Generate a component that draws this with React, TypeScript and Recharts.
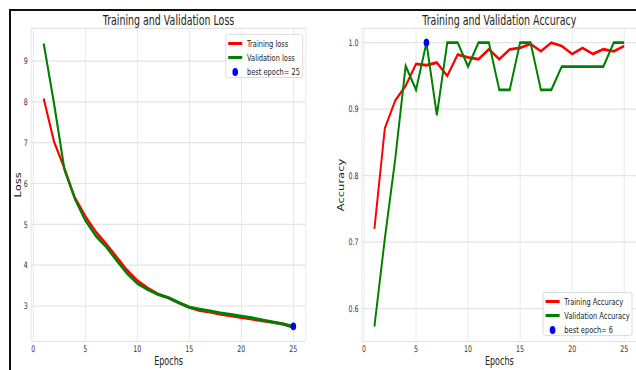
import { ComposedChart, Line, Scatter, XAxis, YAxis, CartesianGrid, Legend } from "recharts";

// the reference is squeezed horizontally, so each chart is drawn wider and scaled back
const SX = 0.7;

const epochs = [1, 2, 3, 4, 5, 6, 7, 8, 9, 10, 11, 12, 13, 14, 15, 16, 17, 18, 19, 20, 21, 22, 23, 24, 25];
const trainLoss = [8.08, 7.02, 6.37, 5.65, 5.2, 4.82, 4.52, 4.2, 3.88, 3.62, 3.44, 3.29, 3.2, 3.08, 2.97, 2.89, 2.85, 2.8, 2.76, 2.72, 2.68, 2.64, 2.6, 2.56, 2.48];
const valLoss = [9.43, 7.95, 6.33, 5.62, 5.1, 4.72, 4.45, 4.12, 3.8, 3.55, 3.4, 3.28, 3.2, 3.08, 2.97, 2.92, 2.88, 2.83, 2.79, 2.75, 2.71, 2.66, 2.61, 2.56, 2.5];
const trainAcc = [0.72, 0.871, 0.913, 0.935, 0.968, 0.966, 0.97, 0.95, 0.982, 0.978, 0.975, 0.99, 0.975, 0.99, 0.992, 0.998, 0.987, 1.0, 0.995, 0.983, 0.992, 0.983, 0.99, 0.987, 0.995];
const valAcc = [0.573, 0.705, 0.825, 0.965, 0.929, 1.0, 0.891, 1.0, 1.0, 0.964, 1.0, 1.0, 0.929, 0.929, 1.0, 1.0, 0.929, 0.929, 0.964, 0.964, 0.964, 0.964, 0.964, 1.0, 1.0];
const bestLossEpoch = 25;
const bestAccEpoch = 6;

const xTicks = [0, 5, 10, 15, 20, 25];
const lossTicks = [3, 4, 5, 6, 7, 8, 9];
const accTicks = [0.6, 0.7, 0.8, 0.9, 1.0];

const lossData = epochs.map((epoch, i) => ({ epoch, train: trainLoss[i], val: valLoss[i] }));
const accData = epochs.map((epoch, i) => ({ epoch, train: trainAcc[i], val: valAcc[i] }));
const bestLoss = [{ epoch: bestLossEpoch, best: valLoss[bestLossEpoch - 1] }];
const bestAcc = [{ epoch: bestAccEpoch, best: valAcc[bestAccEpoch - 1] }];

const tickStyle = { fontSize: 9, fill: "#333" };

function LegendBox({ payload, width }: any) {
  return (
    <div
      style={{
        width,
        height: 44,
        boxSizing: "border-box",
        border: "1px solid #d8d8d8",
        borderRadius: 3,
        background: "rgba(255,255,255,0.85)",
        padding: "1px 0 0 3px",
        fontSize: 9.5,
        color: "#222",
      }}
    >
      {(payload || []).map((p: any) => (
        <div key={p.value} style={{ display: "flex", alignItems: "center", height: 14.2 }}>
          <div style={{ width: 20, display: "flex", justifyContent: "center", marginRight: 7 }}>
            {p.type === "circle" ? (
              <div style={{ width: 8, height: 7.6, borderRadius: "50%", background: p.color }} />
            ) : (
              <div style={{ width: 20, height: 3, background: p.color }} />
            )}
          </div>
          <span>{p.value}</span>
        </div>
      ))}
    </div>
  );
}

const dot = (props: any) => <ellipse cx={props.cx} cy={props.cy} rx={4} ry={3.8} fill="#0000ff" />;

function Title({ text, left, width }: { text: string; left: number; width: number }) {
  return (
    <div
      style={{
        position: "absolute",
        left,
        width,
        top: 13,
        textAlign: "center",
        fontSize: 13.5,
        lineHeight: "14px",
        color: "#222",
        whiteSpace: "nowrap",
      }}
    >
      {text}
    </div>
  );
}

function LossChart() {
  return (
    <div style={{ position: "relative", width: 454, height: 370 }}>
      <Title text="Training and Validation Loss" left={44.6} width={392.3} />
      <ComposedChart width={454} height={370} data={lossData} margin={{ top: 28.4, right: 17.1, bottom: 0, left: 7 }}>
        <CartesianGrid stroke="#e4e4e4" strokeWidth={1.2} />
        <XAxis
          dataKey="epoch"
          type="number"
          domain={[-0.2, 26.2]}
          ticks={xTicks}
          height={28.5}
          axisLine={false}
          tickLine={false}
          tickSize={0}
          tickMargin={4}
          tick={tickStyle}
          label={{ value: "Epochs", position: "insideBottom", offset: 5, fontSize: 11.5, fill: "#222" }}
        />
        <YAxis
          type="number"
          domain={[2.13, 9.8]}
          ticks={lossTicks}
          width={37.6}
          axisLine={false}
          tickLine={false}
          tickSize={0}
          tickMargin={5}
          tick={tickStyle}
          allowDataOverflow
          label={{ value: "Loss", angle: -90, position: "center", fontSize: 11.5, fill: "#222" }}
        />
        <Line type="linear" dataKey="train" name="Training loss" stroke="#ff0000" strokeWidth={3} dot={false} isAnimationActive={false} />
        <Line type="linear" dataKey="val" name="Validation loss" stroke="#008000" strokeWidth={3} dot={false} isAnimationActive={false} />
        <Scatter data={bestLoss} dataKey="best" name={`best epoch= ${bestLossEpoch}`} fill="#0000ff" legendType="circle" shape={dot} isAnimationActive={false} />
        <Legend
          layout="vertical"
          align="center"
          verticalAlign="middle"
          wrapperStyle={{ left: 321.9, top: 34.3, width: 111.4 }}
          content={(props: any) => <LegendBox payload={props.payload} width={111.4} />}
        />
      </ComposedChart>
    </div>
  );
}

function AccChart() {
  return (
    <div style={{ position: "relative", width: 460, height: 370 }}>
      <Title text="Training and Validation Accuracy" left={65.6} width={392.5} />
      <ComposedChart width={460} height={370} data={accData} margin={{ top: 28.4, right: 1.9, bottom: 0, left: 6 }}>
        <CartesianGrid stroke="#e4e4e4" strokeWidth={1.2} />
        <XAxis
          dataKey="epoch"
          type="number"
          domain={[-0.2, 26.2]}
          ticks={xTicks}
          height={28.5}
          axisLine={false}
          tickLine={false}
          tickSize={0}
          tickMargin={4}
          tick={tickStyle}
          label={{ value: "Epochs", position: "insideBottom", offset: 5, fontSize: 11.5, fill: "#222" }}
        />
        <YAxis
          type="number"
          domain={[0.5506, 1.0214]}
          ticks={accTicks}
          width={59.6}
          axisLine={false}
          tickLine={false}
          tickSize={0}
          tickMargin={5}
          tick={tickStyle}
          tickFormatter={(v: number) => v.toFixed(1)}
          allowDataOverflow
          label={{ value: "Accuracy", angle: -90, position: "center", fontSize: 11.5, fill: "#222" }}
        />
        <Line type="linear" dataKey="train" name="Training Accuracy" stroke="#ff0000" strokeWidth={2.8} dot={false} isAnimationActive={false} />
        <Line type="linear" dataKey="val" name="Validation Accuracy" stroke="#008000" strokeWidth={2.8} dot={false} isAnimationActive={false} />
        <Scatter data={bestAcc} dataKey="best" name={`best epoch= ${bestAccEpoch}`} fill="#0000ff" legendType="circle" shape={dot} isAnimationActive={false} />
        <Legend
          layout="vertical"
          align="center"
          verticalAlign="middle"
          wrapperStyle={{ left: 323.8, top: 292.3, width: 128.6 }}
          content={(props: any) => <LegendBox payload={props.payload} width={128.6} />}
        />
      </ComposedChart>
    </div>
  );
}

export default function App() {
  return (
    <div
      style={{
        position: "absolute",
        left: 0,
        top: 0,
        width: 636,
        height: 370,
        overflow: "hidden",
        background: "#fff",
        fontFamily: "'DejaVu Sans', sans-serif",
      }}
    >
      <div style={{ position: "absolute", left: 0, top: 0, transform: `scaleX(${SX})`, transformOrigin: "0 0" }}>
        <LossChart />
      </div>
      <div style={{ position: "absolute", left: 316, top: 0, transform: `scaleX(${SX})`, transformOrigin: "0 0" }}>
        <AccChart />
      </div>
      <div
        style={{
          position: "absolute",
          left: 9,
          top: 9,
          width: 640,
          height: 380,
          borderTop: "2px solid #111",
          borderLeft: "2px solid #111",
          pointerEvents: "none",
        }}
      />
    </div>
  );
}
